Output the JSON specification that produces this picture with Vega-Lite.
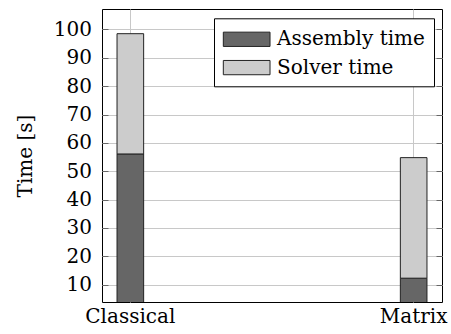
{
  "$schema": "https://vega.github.io/schema/vega-lite/v6.json",
  "width": 340,
  "height": 293,
  "autosize": {"type": "none"},
  "padding": {"left": 102, "top": 9, "right": 9, "bottom": 32},
  "config": {
    "view": {"stroke": "black", "strokeWidth": 1},
    "font": "DejaVu Serif"
  },
  "data": {
    "values": [
      {"method": "Classical", "part": "Assembly time", "time": 56.1},
      {"method": "Classical", "part": "Solver time", "time": 42.4},
      {"method": "Matrix", "part": "Assembly time", "time": 12.3},
      {"method": "Matrix", "part": "Solver time", "time": 42.5}
    ]
  },
  "layer": [
    {
      "mark": {"type": "bar", "stroke": "#222222", "strokeWidth": 1, "clip": true},
      "encoding": {
        "x": {
          "field": "method",
          "type": "nominal",
          "sort": ["Classical", "Matrix"],
          "scale": {"paddingInner": 0.906, "paddingOuter": 0.053},
          "axis": {
            "title": null,
            "labelAngle": 0,
            "labelFont": "DejaVu Serif",
            "labelFontSize": 20,
            "labelColor": "black",
            "labelPadding": 4,
            "ticks": false,
            "domain": false,
            "grid": true,
            "gridColor": "#c8c8c8",
            "bandPosition": 0.5
          }
        },
        "y": {
          "field": "time",
          "type": "quantitative",
          "stack": "zero",
          "scale": {"domain": [3.9, 107.2], "nice": false, "zero": false},
          "axis": {
            "values": [10, 20, 30, 40, 50, 60, 70, 80, 90, 100],
            "title": "Time [s]",
            "titleFont": "DejaVu Serif",
            "titleFontSize": 20,
            "titleFontWeight": "normal",
            "titleColor": "black",
            "titleX": -71,
            "titleY": 146.5,
            "titleBaseline": "alphabetic",
            "labelFont": "DejaVu Serif",
            "labelFontSize": 20,
            "labelColor": "black",
            "labelPadding": 16.5,
            "tickSize": -6,
            "tickColor": "#666666",
            "domain": false,
            "grid": true,
            "gridColor": "#c8c8c8"
          }
        },
        "order": {"field": "part", "sort": "ascending"},
        "color": {
          "field": "part",
          "type": "nominal",
          "scale": {"domain": ["Assembly time", "Solver time"], "range": ["#666666", "#cccccc"]},
          "legend": {
            "title": null,
            "orient": "none",
            "legendX": 112,
            "legendY": 9.3,
            "direction": "vertical",
            "fillColor": "white",
            "strokeColor": "black",
            "padding": 8.5,
            "symbolType": "M-1,-0.612H3V0.612H-1Z",
            "symbolSize": 545,
            "symbolStrokeColor": "#222222",
            "symbolStrokeWidth": 1,
            "symbolOpacity": 1,
            "labelFont": "DejaVu Serif",
            "labelFontSize": 20,
            "labelColor": "black",
            "labelOffset": 29.5,
            "rowPadding": 5.3
          }
        }
      }
    },
    {
      "mark": {"type": "rule", "opacity": 0},
      "encoding": {
        "y": {
          "field": "time",
          "type": "quantitative",
          "scale": {"domain": [3.9, 107.2], "nice": false, "zero": false},
          "axis": {
            "orient": "right",
            "values": [10, 20, 30, 40, 50, 60, 70, 80, 90, 100],
            "title": null,
            "labels": false,
            "grid": false,
            "domain": false,
            "tickSize": -6,
            "tickColor": "#666666"
          }
        }
      }
    }
  ],
  "resolve": {"axis": {"y": "independent"}}
}
